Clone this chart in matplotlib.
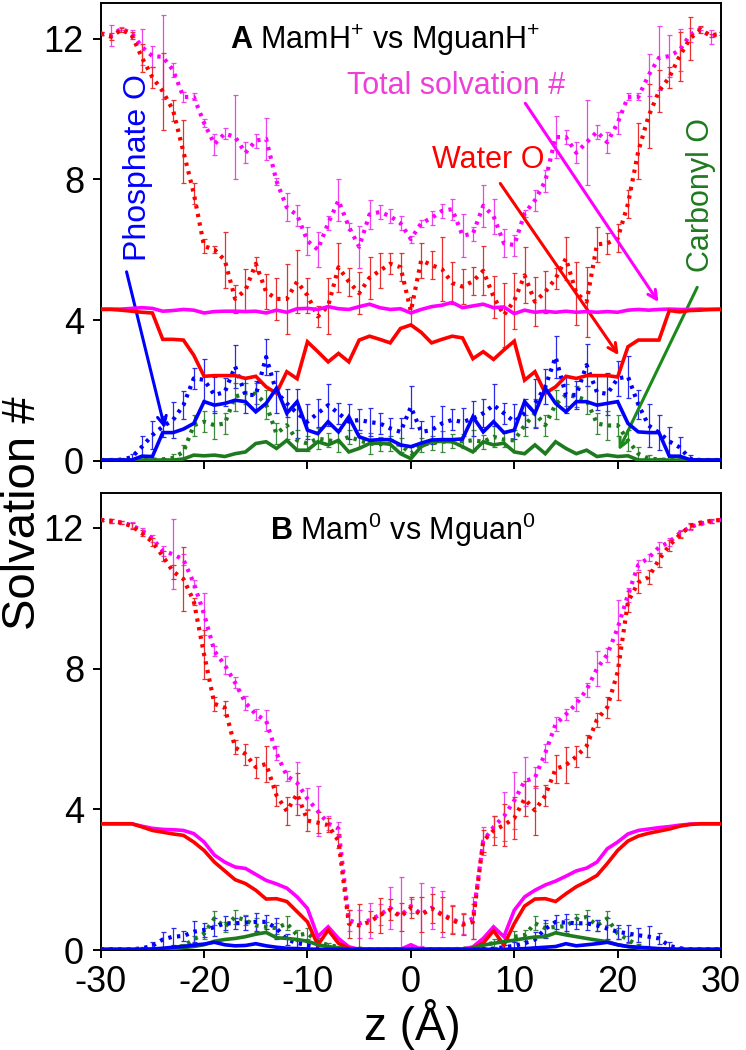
import numpy as np
import matplotlib
matplotlib.use('Agg')
import matplotlib.pyplot as plt

plt.rcParams['font.family'] = ['Liberation Sans', 'DejaVu Sans']
plt.rcParams['mathtext.fontset'] = 'custom'
plt.rcParams['mathtext.rm'] = 'Liberation Sans'
plt.rcParams['mathtext.bf'] = 'Liberation Sans:bold'
plt.rcParams['mathtext.it'] = 'Liberation Sans:italic'
plt.rcParams['axes.unicode_minus'] = False

z = np.arange(-30, 31)
xticks = [-30, -20, -10, 0, 10, 20, 30]
yticks = [0, 4, 8, 12]

# ---- panel A: MamH+ vs MguanH+ (dotted = MguanH+, solid = MamH+)
A_total_dot = [12.14, 12.09, 12.28, 12.15, 11.76, 11.50, 11.48, 11.10, 10.34, 10.34,
               9.60, 9.00, 9.30, 9.20, 8.75, 9.10, 9.15, 7.95, 7.20, 6.98,
               6.25, 6.00, 6.75, 7.40, 6.65, 6.08, 7.00, 7.07, 6.95, 6.75,
               6.30, 6.75, 6.90, 7.10, 7.15, 6.40, 6.45, 7.25, 6.95, 6.18,
               6.13, 7.03, 7.40, 7.95, 9.20, 9.20, 8.75, 9.05, 9.35, 9.05,
               9.60, 10.34, 10.34, 10.96, 11.45, 11.50, 11.67, 12.10, 12.28, 12.05, 12.14]
A_total_dot_err = [0.05, 0.30, 0.05, 0.10, 0.50, 0.30, 1.20, 0.20, 0.15, 0.10,
                   0.10, 0.30, 0.15, 1.20, 0.30, 0.20, 0.60, 0.10, 0.40, 0.30,
                   0.40, 0.50, 0.20, 0.60, 0.10, 0.60, 0.40, 0.20, 0.20, 0.20,
                   0.10, 0.10, 0.20, 0.20, 0.30, 0.60, 0.20, 0.60, 0.50, 0.40,
                   0.30, 0.10, 0.30, 0.30, 0.60, 0.20, 0.30, 1.20, 0.20, 0.30,
                   0.30, 0.10, 0.10, 0.60, 0.90, 0.60, 0.60, 0.20, 0.05, 0.20, 0.05]
A_water_dot = [12.14, 12.05, 12.25, 12.10, 11.45, 10.90, 10.50, 9.96, 8.78, 7.60,
               6.10, 6.00, 5.70, 4.60, 4.85, 5.60, 4.80, 4.60, 4.60, 5.09,
               4.70, 4.10, 4.40, 5.50, 5.09, 4.76, 5.20, 5.40, 5.60, 5.50,
               4.25, 5.70, 5.56, 5.45, 5.05, 4.95, 5.10, 5.40, 4.66, 4.14,
               4.55, 5.27, 4.52, 4.80, 5.18, 5.75, 4.76, 4.52, 6.15, 6.18,
               6.32, 7.30, 8.80, 9.80, 10.50, 10.90, 11.50, 12.00, 12.25, 12.09, 12.14]
A_water_dot_err = [0.05, 0.10, 0.05, 0.10, 0.40, 0.30, 1.10, 0.30, 0.90, 0.30,
                   0.20, 0.10, 0.80, 0.40, 0.60, 0.20, 0.50, 0.60, 1.00, 0.90,
                   0.50, 0.30, 0.80, 0.70, 0.40, 0.60, 0.60, 0.50, 0.30, 0.40,
                   0.40, 0.50, 0.40, 0.90, 0.60, 0.50, 0.40, 0.70, 0.60, 0.90,
                   0.80, 0.80, 0.70, 0.60, 0.30, 0.60, 0.90, 1.00, 0.50, 0.30,
                   0.40, 0.40, 0.80, 0.90, 0.60, 0.30, 0.70, 0.60, 0.10, 0.05, 0.05]
A_phos_dot = [0.02, 0.02, 0.03, 0.10, 0.40, 0.73, 0.97, 1.16, 1.58, 2.34,
              2.30, 1.87, 1.95, 2.68, 1.87, 1.87, 2.95, 1.95, 1.63, 1.35,
              1.11, 1.35, 1.58, 1.35, 1.11, 1.16, 1.10, 1.06, 0.92, 0.82,
              1.53, 0.82, 0.87, 1.06, 1.16, 1.10, 1.20, 1.35, 1.58, 1.35,
              1.11, 1.35, 1.63, 2.10, 2.95, 1.87, 1.87, 2.72, 1.95, 1.90,
              2.34, 2.39, 1.60, 1.00, 0.80, 0.55, 0.38, 0.06, 0.02, 0.02, 0.02]
A_phos_dot_err = [0.02, 0.02, 0.05, 0.10, 0.30, 0.40, 0.30, 0.50, 0.40, 0.30,
                  0.60, 0.50, 0.40, 0.60, 0.50, 0.40, 0.50, 0.60, 0.40, 0.70,
                  0.50, 0.40, 0.60, 0.30, 0.50, 0.30, 0.40, 0.30, 0.30, 0.40,
                  0.60, 0.30, 0.40, 0.50, 0.30, 0.40, 0.50, 0.40, 0.60, 0.30,
                  0.50, 0.40, 0.70, 0.50, 0.60, 0.50, 0.40, 0.60, 0.50, 0.60,
                  0.50, 0.60, 0.40, 0.60, 0.50, 0.40, 0.30, 0.10, 0.02, 0.02, 0.02]
A_carb_dot = [0.02, 0.02, 0.02, 0.02, 0.02, 0.03, 0.04, 0.08, 0.25, 1.01,
              1.11, 1.01, 1.06, 1.82, 1.92, 1.90, 1.60, 0.77, 1.01, 0.58,
              0.49, 0.63, 0.58, 0.54, 0.68, 0.58, 0.49, 0.47, 0.49, 0.45,
              0.20, 0.45, 0.50, 0.54, 0.55, 0.55, 0.58, 0.54, 0.68, 0.60,
              0.58, 1.00, 1.35, 1.01, 1.60, 1.87, 1.82, 1.72, 1.06, 1.00,
              1.01, 0.58, 0.20, 0.06, 0.04, 0.02, 0.02, 0.02, 0.02, 0.02, 0.02]
A_carb_dot_err = [0.02, 0.02, 0.02, 0.02, 0.02, 0.03, 0.05, 0.10, 0.20, 0.30,
                  0.30, 0.40, 0.30, 0.40, 0.30, 0.30, 0.40, 0.30, 0.40, 0.30,
                  0.20, 0.30, 0.20, 0.30, 0.20, 0.20, 0.30, 0.20, 0.20, 0.20,
                  0.20, 0.20, 0.20, 0.30, 0.20, 0.20, 0.30, 0.20, 0.30, 0.20,
                  0.30, 0.30, 0.40, 0.30, 0.40, 0.30, 0.30, 0.40, 0.30, 0.40,
                  0.30, 0.30, 0.20, 0.10, 0.05, 0.03, 0.02, 0.02, 0.02, 0.02, 0.02]
A_total_sol = [4.31, 4.31, 4.31, 4.33, 4.35, 4.33, 4.25, 4.27, 4.30, 4.28,
               4.20, 4.24, 4.25, 4.25, 4.24, 4.25, 4.20, 4.28, 4.22, 4.32,
               4.33, 4.30, 4.38, 4.32, 4.30, 4.38, 4.45, 4.35, 4.30, 4.32,
               4.20, 4.30, 4.38, 4.42, 4.50, 4.35, 4.40, 4.45, 4.35, 4.37,
               4.18, 4.28, 4.22, 4.25, 4.22, 4.25, 4.22, 4.24, 4.22, 4.24,
               4.22, 4.28, 4.30, 4.28, 4.30, 4.31, 4.30, 4.30, 4.31, 4.30, 4.31]
A_water_sol = [4.30, 4.30, 4.28, 4.25, 4.22, 4.20, 3.45, 3.45, 3.43, 3.00,
               2.40, 2.42, 2.42, 2.42, 2.34, 2.40, 2.10, 1.92, 2.53, 2.33,
               3.38, 3.10, 2.81, 3.05, 2.81, 3.43, 3.54, 3.45, 3.35, 3.76,
               3.86, 3.65, 3.35, 3.45, 3.54, 3.49, 2.90, 3.10, 2.88, 3.15,
               3.40, 2.29, 2.53, 1.92, 2.10, 2.40, 2.34, 2.42, 2.42, 2.42,
               2.38, 3.24, 3.43, 3.43, 3.43, 4.27, 4.23, 4.27, 4.28, 4.30, 4.30]
A_phos_sol = [0.02, 0.02, 0.02, 0.02, 0.13, 0.12, 0.80, 0.80, 0.90, 1.06,
              1.68, 1.58, 1.63, 1.72, 1.68, 1.39, 1.63, 2.06, 1.35, 1.68,
              0.87, 0.77, 1.11, 0.82, 1.25, 0.68, 0.58, 0.60, 0.60, 0.45,
              0.40, 0.50, 0.59, 0.60, 0.60, 0.62, 1.25, 0.82, 1.11, 0.80,
              0.87, 1.68, 1.35, 2.06, 1.63, 1.39, 1.68, 1.68, 1.58, 1.63,
              1.68, 1.06, 0.82, 0.80, 0.80, 0.13, 0.13, 0.03, 0.02, 0.02, 0.02]
A_carb_sol = [0.02, 0.02, 0.02, 0.02, 0.02, 0.02, 0.02, 0.02, 0.05, 0.16,
              0.14, 0.16, 0.12, 0.20, 0.25, 0.49, 0.54, 0.35, 0.58, 0.30,
              0.30, 0.54, 0.45, 0.58, 0.25, 0.35, 0.49, 0.50, 0.47, 0.20,
              0.06, 0.40, 0.54, 0.55, 0.54, 0.40, 0.25, 0.54, 0.45, 0.50,
              0.25, 0.20, 0.45, 0.20, 0.54, 0.35, 0.20, 0.30, 0.12, 0.16,
              0.12, 0.14, 0.02, 0.02, 0.02, 0.02, 0.02, 0.02, 0.02, 0.02, 0.02]

# ---- panel B: Mam0 vs Mguan0
B_total_dot = [12.23, 12.20, 12.15, 12.08, 11.92, 11.70, 11.35, 11.25, 11.10, 10.43,
               9.55, 8.50, 8.10, 7.60, 7.03, 6.70, 6.52, 5.60, 4.95, 4.75,
               4.30, 3.95, 3.60, 3.45, 0.85, 0.75, 0.85, 1.00, 1.20, 0.97,
               1.25, 1.02, 1.20, 1.02, 0.88, 0.75, 0.90, 3.10, 3.50, 3.80,
               4.25, 4.80, 4.90, 5.60, 6.42, 6.70, 7.00, 7.40, 8.00, 8.40,
               9.15, 10.10, 10.95, 11.15, 11.45, 11.60, 11.85, 12.02, 12.12, 12.18, 12.23]
B_total_dot_err = [0.03, 0.05, 0.05, 0.08, 0.08, 0.10, 0.15, 1.00, 0.15, 0.10,
                   0.60, 0.15, 0.25, 0.15, 0.20, 0.15, 0.30, 0.20, 0.15, 0.60,
                   0.30, 0.70, 0.20, 0.20, 0.30, 0.40, 0.50, 0.30, 0.60, 1.10,
                   0.20, 0.90, 0.60, 0.65, 0.40, 0.30, 0.60, 0.40, 0.30, 0.70,
                   0.80, 0.70, 0.30, 0.25, 0.20, 0.15, 0.20, 0.20, 0.50, 0.20,
                   0.80, 0.20, 0.15, 0.10, 0.15, 0.10, 0.10, 0.08, 0.05, 0.05, 0.03]
B_water_dot = [12.23, 12.20, 12.15, 12.05, 11.85, 11.60, 11.20, 10.76, 10.55, 9.92,
               8.40, 7.00, 6.89, 5.76, 5.57, 5.20, 5.29, 4.40, 3.95, 4.44,
               3.68, 3.62, 3.55, 3.10, 0.75, 0.70, 0.80, 0.99, 1.15, 0.95,
               1.20, 1.00, 1.18, 1.00, 0.85, 0.72, 0.80, 3.10, 3.40, 3.55,
               3.75, 4.30, 3.97, 4.39, 5.15, 5.26, 5.50, 5.80, 6.55, 6.90,
               7.90, 9.90, 10.45, 10.60, 11.10, 11.50, 11.80, 12.05, 12.15, 12.20, 12.23]
B_water_dot_err = [0.03, 0.05, 0.05, 0.08, 0.08, 0.10, 0.15, 0.20, 0.90, 0.10,
                   0.70, 0.20, 0.20, 0.20, 0.30, 0.30, 0.50, 0.30, 0.40, 0.60,
                   0.30, 0.30, 0.20, 0.20, 0.40, 0.60, 0.30, 0.50, 0.30, 0.40,
                   0.30, 0.50, 0.40, 0.50, 0.40, 0.30, 0.50, 0.30, 0.40, 0.60,
                   0.60, 0.50, 0.70, 0.30, 0.40, 0.50, 0.30, 0.30, 0.20, 0.30,
                   0.80, 0.30, 0.30, 0.20, 0.20, 0.15, 0.10, 0.08, 0.05, 0.05, 0.03]
B_phos_dot = [0.02, 0.02, 0.02, 0.02, 0.05, 0.12, 0.30, 0.38, 0.40, 0.52,
              0.57, 0.65, 0.76, 0.76, 0.78, 0.80, 0.80, 0.62, 0.30, 0.20,
              0.14, 0.08, 0.04, 0.02, 0.02, 0.02, 0.02, 0.02, 0.02, 0.02,
              0.02, 0.02, 0.02, 0.02, 0.02, 0.02, 0.02, 0.02, 0.04, 0.08,
              0.12, 0.19, 0.30, 0.60, 0.80, 0.78, 0.76, 0.76, 0.70, 0.61,
              0.52, 0.47, 0.42, 0.38, 0.33, 0.12, 0.05, 0.02, 0.02, 0.02, 0.02]
B_phos_dot_err = [0.02, 0.02, 0.02, 0.02, 0.05, 0.10, 0.20, 0.25, 0.15, 0.30,
                  0.20, 0.25, 0.20, 0.15, 0.20, 0.25, 0.20, 0.30, 0.15, 0.10,
                  0.10, 0.05, 0.03, 0.02, 0.02, 0.02, 0.02, 0.02, 0.02, 0.02,
                  0.02, 0.02, 0.02, 0.02, 0.02, 0.02, 0.02, 0.02, 0.03, 0.05,
                  0.10, 0.15, 0.20, 0.25, 0.20, 0.25, 0.15, 0.20, 0.15, 0.30,
                  0.20, 0.25, 0.20, 0.30, 0.15, 0.10, 0.05, 0.02, 0.02, 0.02, 0.02]
B_carb_dot = [0.02, 0.02, 0.02, 0.02, 0.02, 0.02, 0.02, 0.05, 0.12, 0.30,
              0.47, 0.90, 0.66, 0.94, 0.85, 0.70, 0.66, 0.62, 0.76, 0.42,
              0.47, 0.24, 0.14, 0.09, 0.06, 0.04, 0.02, 0.02, 0.02, 0.02,
              0.02, 0.02, 0.02, 0.02, 0.02, 0.04, 0.06, 0.14, 0.20, 0.30,
              0.38, 0.42, 0.76, 0.62, 0.66, 0.68, 0.88, 0.94, 0.70, 0.90,
              0.47, 0.30, 0.12, 0.05, 0.02, 0.02, 0.02, 0.02, 0.02, 0.02, 0.02]
B_carb_dot_err = [0.02, 0.02, 0.02, 0.02, 0.02, 0.02, 0.02, 0.03, 0.05, 0.10,
                  0.15, 0.20, 0.15, 0.20, 0.15, 0.20, 0.15, 0.15, 0.20, 0.15,
                  0.15, 0.10, 0.05, 0.03, 0.02, 0.02, 0.02, 0.02, 0.02, 0.02,
                  0.02, 0.02, 0.02, 0.02, 0.02, 0.02, 0.03, 0.05, 0.10, 0.15,
                  0.15, 0.15, 0.20, 0.15, 0.15, 0.20, 0.15, 0.20, 0.15, 0.20,
                  0.15, 0.10, 0.05, 0.03, 0.02, 0.02, 0.02, 0.02, 0.02, 0.02, 0.02]
B_total_sol = [3.59, 3.59, 3.59, 3.59, 3.52, 3.46, 3.43, 3.42, 3.40, 3.31,
               3.07, 2.70, 2.50, 2.36, 2.32, 2.15, 1.98, 1.88, 1.76, 1.51,
               1.18, 0.38, 0.66, 0.33, 0.09, 0.02, 0.02, 0.02, 0.02, 0.02,
               0.15, 0.02, 0.02, 0.02, 0.02, 0.02, 0.09, 0.33, 0.66, 0.38,
               1.13, 1.51, 1.70, 1.85, 1.96, 2.10, 2.25, 2.33, 2.50, 2.88,
               3.07, 3.30, 3.40, 3.44, 3.48, 3.51, 3.55, 3.58, 3.59, 3.59, 3.59]
B_water_sol = [3.59, 3.59, 3.59, 3.59, 3.50, 3.40, 3.35, 3.30, 3.26, 3.07,
               2.83, 2.50, 2.25, 2.00, 1.89, 1.70, 1.45, 1.46, 1.38, 1.09,
               0.80, 0.14, 0.57, 0.19, 0.05, 0.02, 0.02, 0.02, 0.02, 0.02,
               0.02, 0.02, 0.02, 0.02, 0.02, 0.02, 0.05, 0.20, 0.55, 0.14,
               0.75, 1.25, 1.45, 1.46, 1.38, 1.60, 1.80, 1.95, 2.12, 2.46,
               2.83, 3.10, 3.24, 3.32, 3.38, 3.44, 3.52, 3.57, 3.59, 3.59, 3.59]
B_phos_sol = [0.02, 0.02, 0.02, 0.02, 0.02, 0.03, 0.05, 0.08, 0.10, 0.14,
              0.17, 0.22, 0.15, 0.12, 0.13, 0.18, 0.12, 0.08, 0.05, 0.04,
              0.03, 0.02, 0.02, 0.02, 0.02, 0.02, 0.02, 0.02, 0.02, 0.02,
              0.02, 0.02, 0.02, 0.02, 0.02, 0.02, 0.02, 0.02, 0.02, 0.02,
              0.03, 0.04, 0.06, 0.08, 0.10, 0.18, 0.12, 0.15, 0.18, 0.22,
              0.15, 0.10, 0.08, 0.06, 0.04, 0.03, 0.02, 0.02, 0.02, 0.02, 0.02]
B_carb_sol = [0.02, 0.02, 0.02, 0.02, 0.02, 0.02, 0.02, 0.04, 0.07, 0.10,
              0.15, 0.25, 0.30, 0.33, 0.38, 0.45, 0.50, 0.35, 0.33, 0.30,
              0.25, 0.15, 0.10, 0.06, 0.03, 0.02, 0.02, 0.02, 0.02, 0.02,
              0.02, 0.02, 0.02, 0.02, 0.02, 0.02, 0.05, 0.14, 0.19, 0.24,
              0.28, 0.33, 0.37, 0.38, 0.49, 0.43, 0.38, 0.33, 0.28, 0.24,
              0.15, 0.10, 0.06, 0.03, 0.02, 0.02, 0.02, 0.02, 0.02, 0.02, 0.02]

MAG, RED, BLUE, GREEN = '#ff00ff', '#ff0000', '#0000ff', '#1e7a1e'
MAG_E, RED_E, BLUE_E, GREEN_E = '#ee44ee', '#e83030', '#2a2aee', '#3a8a3a'
DOT = (0, (0.8, 1.3))


def draw_panel(ax, dotted, solid):
    for vals, err, col, ecol in dotted:
        ax.errorbar(z, vals, yerr=err, fmt='none', ecolor=ecol, elinewidth=0.9,
                    capsize=1.8, capthick=0.9, zorder=2)
    for vals, err, col, ecol in dotted:
        ax.plot(z, vals, color=col, lw=3.0, ls=DOT, zorder=3)
    for vals, col in solid:
        ax.plot(z, vals, color=col, lw=2.6, solid_joinstyle='miter', zorder=4)

    ax.set_xlim(-30, 30)
    ax.set_ylim(0, 13)
    ax.set_xticks(xticks)
    ax.set_yticks(yticks)
    ax.tick_params(direction='out', length=6, width=1.4, labelsize=26, pad=6,
                   top=False, right=False)
    ax.tick_params(axis='x', pad=5)
    for s in ax.spines.values():
        s.set_linewidth(1.4)


fig = plt.figure(figsize=(7.46, 10.5), dpi=100)
axA = fig.add_axes([0.135, 0.5612, 0.8315, 0.4356])
axB = fig.add_axes([0.135, 0.0952, 0.8315, 0.4355])

draw_panel(axA,
           [(A_total_dot, A_total_dot_err, MAG, MAG_E),
            (A_water_dot, A_water_dot_err, RED, RED_E),
            (A_carb_dot, A_carb_dot_err, GREEN, GREEN_E),
            (A_phos_dot, A_phos_dot_err, BLUE, BLUE_E)],
           [(A_total_sol, MAG), (A_water_sol, RED),
            (A_carb_sol, GREEN), (A_phos_sol, BLUE)])
draw_panel(axB,
           [(B_total_dot, B_total_dot_err, MAG, MAG_E),
            (B_water_dot, B_water_dot_err, RED, RED_E),
            (B_carb_dot, B_carb_dot_err, GREEN, GREEN_E),
            (B_phos_dot, B_phos_dot_err, BLUE, BLUE_E)],
           [(B_total_sol, MAG), (B_water_sol, RED),
            (B_carb_sol, GREEN), (B_phos_sol, BLUE)])
axA.set_xticklabels([])

# panel titles
axA.text(-17.5, 11.95, r'$\mathbf{A}$ MamH$^{+}$ vs MguanH$^{+}$', fontsize=22,
         ha='left', va='center')
axB.text(-13.6, 11.95, r'$\mathbf{B}$ Mam$^{0}$ vs Mguan$^{0}$', fontsize=22,
         ha='left', va='center')

# labels with arrows in panel A
arrow_kw = dict(arrowstyle='->', lw=2.2, mutation_scale=16, shrinkA=0, shrinkB=0)
axA.text(-6.2, 10.65, 'Total solvation #', color='#ee3fd8', fontsize=22,
         ha='left', va='center')
axA.annotate('', xy=(23.95, 4.51), xytext=(11.07, 10.16),
             arrowprops=dict(color=MAG, **arrow_kw))
axA.text(7.5, 8.54, 'Water O', color=RED, fontsize=22, ha='center', va='center')
axA.annotate('', xy=(20.1, 3.0), xytext=(8.65, 7.88),
             arrowprops=dict(color=RED, **arrow_kw))
axA.text(28.1, 7.55, 'Carbonyl O', color=GREEN, fontsize=22, rotation=90,
         ha='center', va='center')
axA.annotate('', xy=(20.1, 0.3), xytext=(27.7, 4.93),
             arrowprops=dict(color='#1a8a1a', **arrow_kw))
axA.text(-26.4, 8.32, 'Phosphate O', color=BLUE, fontsize=23, rotation=90,
         ha='center', va='center')
axA.annotate('', xy=(-23.8, 0.92), xytext=(-27.5, 5.37),
             arrowprops=dict(color=BLUE, **arrow_kw))

fig.text(0.031, 0.511, 'Solvation #', rotation=90, fontsize=34,
         ha='center', va='center')
fig.text(0.553, 0.024, 'z (Å)', fontsize=33, ha='center', va='center')

fig.savefig('out.png', dpi=100)
